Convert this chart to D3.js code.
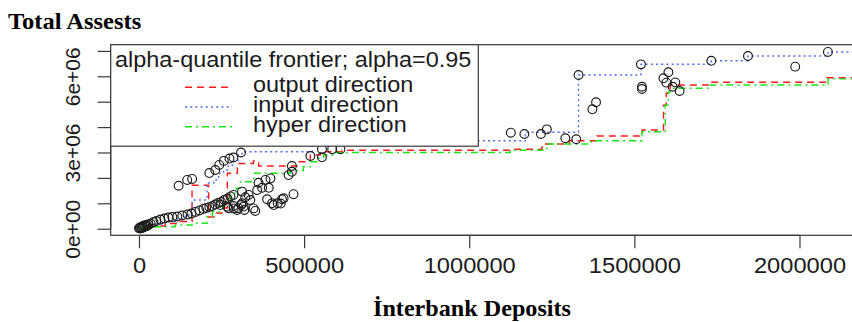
<!DOCTYPE html>
<html>
<head>
<meta charset="utf-8">
<script src="https://cdn.jsdelivr.net/npm/d3@7"></script>
<style>
  html, body { margin: 0; padding: 0; background: #fff; }
  svg { display: block; }
</style>
</head>
<body>
<div id="chart"></div>
<script>
// ---------------- DATA ----------------
const chartTitle = "Total Assests";
const xTitle = "İnterbank Deposits";
const legendTitle = "alpha-quantile frontier; alpha=0.95";
const seriesNames = ["output direction", "input direction", "hyper direction"];

const xTickValues = [0, 500000, 1000000, 1500000, 2000000];
const xTickLabels = ["0", "500000", "1000000", "1500000", "2000000"];
const yTickValues = [0, 1e6, 2e6, 3e6, 4e6, 5e6, 6e6, 7e6];
const yTickLabels = ["0e+00", "", "", "3e+06", "", "", "6e+06", ""];

// observations: [Interbank Deposits, Total Assets]
const banks = [
  [0, 20000], [3000, 50000], [7000, 70000], [12000, 110000], [16000, 130000],
  [22000, 150000], [28000, 170000], [35000, 200000], [44000, 260000], [53000, 300000],
  [65000, 360000], [77000, 400000], [89000, 440000], [101000, 460000], [116000, 480000],
  [131000, 520000], [147000, 560000], [159000, 600000], [171000, 660000], [183000, 720000],
  [195000, 780000], [204000, 820000], [213000, 850000], [222000, 890000], [231000, 950000],
  [240000, 1010000], [249000, 1050000], [258000, 1130000], [268000, 1190000], [277000, 1270000],
  [286000, 1330000], [4000, 10000], [13000, 50000], [25000, 110000], [9000, 30000],
  [19000, 90000], [286000, 890000], [297000, 740000], [301000, 810000], [310000, 930000],
  [317000, 870000], [271000, 810000], [319000, 740000], [347000, 800000], [352000, 700000],
  [287000, 800000], [267000, 870000], [246000, 930000], [312000, 1000000],
  [362000, 1810000], [383000, 1920000], [398000, 1980000], [373000, 1610000], [393000, 1610000],
  [358000, 1520000], [312000, 1460000], [322000, 1240000], [337000, 1130000], [388000, 1160000],
  [403000, 1000000], [420000, 1000000], [433000, 1160000], [332000, 1330000], [438000, 1200000],
  [468000, 1360000], [408000, 930000], [429000, 990000],
  [213000, 2190000], [231000, 2310000], [243000, 2510000], [257000, 2670000], [274000, 2760000],
  [286000, 2800000], [309000, 3000000], [120000, 1690000], [146000, 1920000], [161000, 1960000],
  [463000, 2470000], [463000, 2240000], [453000, 2110000],
  [519000, 2860000], [554000, 2810000], [554000, 3130000], [585000, 3130000], [610000, 3130000],
  [1126000, 3780000], [1167000, 3730000], [1217000, 3730000], [1235000, 3910000], [1291000, 3560000],
  [1324000, 3520000], [1331000, 6050000], [1520000, 6470000], [1733000, 6610000], [1844000, 6800000],
  [2086000, 6960000], [1987000, 6380000], [1384000, 4980000], [1373000, 4700000], [1523000, 5590000],
  [1523000, 5500000], [1603000, 6160000], [1588000, 5920000], [1597000, 5750000], [1624000, 5760000],
  [1616000, 5590000], [1637000, 5420000]
];

// frontier step functions: [x, y] (drawn as R type "s")
const outputFrontier = [
  [0, 8000], [34500, 106000], [79600, 205000], [125000, 283000], [160700, 1713000],
  [211000, 460000], [234300, 618000], [252500, 815000], [267600, 2181000], [297900, 2567000],
  [346300, 2665000], [362300, 2469000], [478600, 2638000], [518800, 2902000], [549100, 3031000],
  [614800, 3087000], [1124200, 3126000], [1220200, 3335000], [1302800, 3465000], [1386700, 3650000],
  [1522900, 3886000], [1588300, 4858000], [1596500, 5342000], [1608600, 5657000], [1729700, 5764000],
  [2082900, 5940000], [2250000, 5940000]
];
const inputFrontier = [
  [0, 8000], [19000, 87000], [50000, 185000], [80000, 283000], [110000, 382000],
  [140000, 540000], [161000, 1130000], [206000, 1800000], [226000, 1920000], [241000, 2180000],
  [256000, 2310000], [271000, 2510000], [287000, 2700000], [301000, 2900000], [312000, 3031000],
  [525000, 3465000], [1170000, 3795000], [1331000, 6051000], [1520000, 6472000], [1733000, 6614000],
  [1844000, 6799000], [2086000, 6957000], [2250000, 6957000]
];
const hyperFrontier = [
  [0, 5000], [49600, 79000], [110100, 146000], [160700, 213000], [206100, 472000],
  [222200, 669000], [246400, 894000], [264600, 1130000], [276700, 1394000], [294900, 1591000],
  [307000, 1850000], [347200, 2181000], [458100, 2291000], [497600, 2441000], [518800, 2638000],
  [539100, 2772000], [559100, 2902000], [594500, 3000000], [1124200, 3087000], [1235300, 3335000],
  [1369400, 3465000], [1522900, 3819000], [1593400, 4870000], [1602500, 5382000], [1608600, 5528000],
  [1729700, 5657000], [2086400, 5900000], [2250000, 5900000]
];

// ---------------- LAYOUT ----------------
const W = 852, H = 322;
const plot = { left: 110.7, right: 874, top: 44.7, bottom: 235.3 };
const xDomain = [-85600, 2225600];
const yDomain = [-260000, 7244000];

const styles = [
  { data: outputFrontier, color: "#ff1a1a", dash: "7,5" },
  { data: inputFrontier, color: "#4a6ff0", dash: "2,3.2" },
  { data: hyperFrontier, color: "#19e619", dash: "7,4,2,4" }
];

// widen text horizontally (reference glyphs are a little wider than tall)
function stretch(sel, k) {
  sel.each(function () {
    const L = this.getComputedTextLength();
    if (L > 0) d3.select(this).attr("textLength", L * k).attr("lengthAdjust", "spacingAndGlyphs");
  });
}

const svg = d3.select("#chart").append("svg")
  .attr("width", W).attr("height", H)
  .attr("font-family", "'Liberation Sans', Arial, sans-serif");

const x = d3.scaleLinear().domain(xDomain).range([plot.left, plot.right]);
const y = d3.scaleLinear().domain(yDomain).range([plot.bottom, plot.top]);

svg.append("defs").append("clipPath").attr("id", "clip")
  .append("rect")
  .attr("x", plot.left).attr("y", plot.top)
  .attr("width", plot.right - plot.left).attr("height", plot.bottom - plot.top);

const g = svg.append("g").attr("clip-path", "url(#clip)");

// frontiers
const line = d3.line().x(d => x(d[0])).y(d => y(d[1])).curve(d3.curveStepAfter);
styles.forEach(s => {
  g.append("path").datum(s.data)
    .attr("d", line)
    .attr("fill", "none")
    .attr("stroke", s.color)
    .attr("stroke-width", 1.4)
    .attr("stroke-dasharray", s.dash);
});

// points
g.selectAll("circle.pt").data(banks).enter().append("circle")
  .attr("class", "pt")
  .attr("cx", d => x(d[0])).attr("cy", d => y(d[1]))
  .attr("r", 4.4)
  .attr("fill", "none")
  .attr("stroke", "#1a1a1a")
  .attr("stroke-width", 1.15);

// frame
svg.append("rect")
  .attr("x", plot.left).attr("y", plot.top)
  .attr("width", plot.right - plot.left).attr("height", plot.bottom - plot.top)
  .attr("fill", "none").attr("stroke", "#3a3a3a").attr("stroke-width", 1.2);

// x axis
const xAxis = d3.axisBottom(x).tickValues(xTickValues)
  .tickFormat((d, i) => xTickLabels[i]).tickSize(13).tickPadding(10);
const gx = svg.append("g").attr("transform", `translate(0,${plot.bottom})`).call(xAxis);
gx.select(".domain").attr("stroke", "#3a3a3a").attr("stroke-width", 1.2)
  .attr("d", `M${x(xTickValues[0])},0H${x(xTickValues[xTickValues.length - 1])}`);
gx.selectAll(".tick line").attr("stroke", "#3a3a3a").attr("stroke-width", 1.2);
gx.selectAll(".tick text").attr("font-size", 21.5).attr("fill", "#1a1a1a")
  .attr("font-family", "'Liberation Sans', Arial, sans-serif")
  .attr("dy", null).attr("y", 37.5);
stretch(gx.selectAll(".tick text"), 1.1);

// y axis
const yAxis = d3.axisLeft(y).tickValues(yTickValues)
  .tickFormat((d, i) => yTickLabels[i]).tickSize(13).tickPadding(0);
const gy = svg.append("g").attr("transform", `translate(${plot.left},0)`).call(yAxis);
gy.select(".domain").attr("stroke", "#3a3a3a").attr("stroke-width", 1.2)
  .attr("d", `M0,${y(yTickValues[0])}V${y(yTickValues[yTickValues.length - 1])}`);
gy.selectAll(".tick line").attr("stroke", "#3a3a3a").attr("stroke-width", 1.2);
gy.selectAll(".tick text")
  .attr("font-size", 21).attr("fill", "#1a1a1a")
  .attr("font-family", "'Liberation Sans', Arial, sans-serif")
  .attr("x", null).attr("dy", null)
  .attr("text-anchor", "middle")
  .attr("transform", "translate(-31,0) rotate(-90)");

// legend
const lg = svg.append("g");
lg.append("rect")
  .attr("x", plot.left).attr("y", plot.top)
  .attr("width", 478.3 - plot.left).attr("height", 146.2 - plot.top)
  .attr("fill", "#fff").attr("stroke", "#3a3a3a").attr("stroke-width", 1.2);
const legT = lg.append("text").attr("x", 115).attr("y", 66.5)
  .attr("font-size", 22).attr("fill", "#1a1a1a").text(legendTitle);
stretch(legT, 1.065);
const legY = [87.3, 107, 126.8];
const legBase = [92, 111.7, 131.5];
styles.forEach((s, i) => {
  lg.append("line")
    .attr("x1", 185).attr("x2", 232).attr("y1", legY[i]).attr("y2", legY[i])
    .attr("stroke", s.color).attr("stroke-width", 1.4).attr("stroke-dasharray", s.dash);
  const t = lg.append("text").attr("x", 253).attr("y", legBase[i])
    .attr("font-size", 22).attr("fill", "#1a1a1a").text(seriesNames[i]);
  stretch(t, 1.065);
});

// titles
const tt = svg.append("text").attr("x", 8).attr("y", 29)
  .attr("font-family", "'Liberation Serif', 'Times New Roman', serif")
  .attr("font-weight", "bold").attr("font-size", 23).attr("fill", "#000")
  .text(chartTitle);
stretch(tt, 1.065);
const xt = svg.append("text").attr("x", 472).attr("y", 316)
  .attr("text-anchor", "middle")
  .attr("font-family", "'Liberation Serif', 'Times New Roman', serif")
  .attr("font-weight", "bold").attr("font-size", 23).attr("fill", "#000")
  .text(xTitle);
stretch(xt, 1.05);
</script>
</body>
</html>
